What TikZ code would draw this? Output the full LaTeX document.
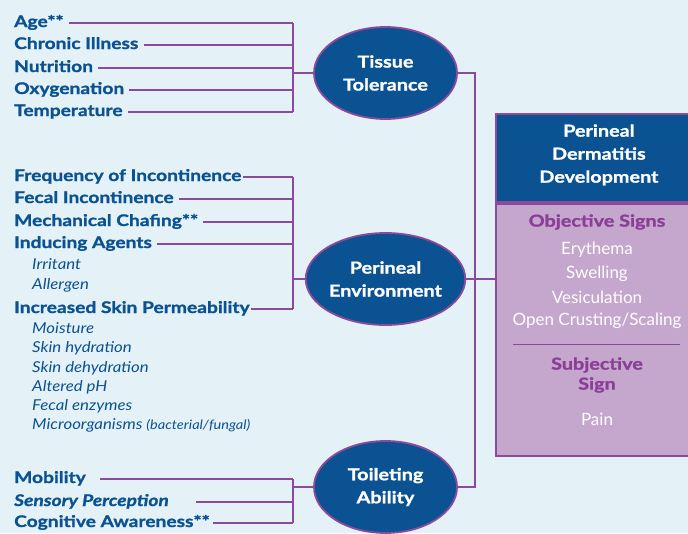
\documentclass[tikz,border=0pt]{standalone}
\usepackage{fontspec}
\setmainfont{Lato}[BoldFeatures={FakeStretch=1.2,FakeBold=1.2},ItalicFeatures={FakeStretch=1.12},
  BoldItalicFeatures={FakeStretch=1.2,FakeBold=1.2}]
\usetikzlibrary{positioning,shapes.geometric}
\definecolor{bgblue}{HTML}{E4F2F7}
\definecolor{navy}{HTML}{0A5291}
\definecolor{plum}{HTML}{8C4A9C}
\definecolor{lilac}{HTML}{C5A6CD}
\definecolor{plumtext}{HTML}{8A3E97}
% feeder line from a factor label to a bus
\newcommand{\feed}[3][]{\draw[feed,shorten <=5pt,#1] (#2.east) -- (#2.east -| #3);}

\tikzset{
  factor/.style={anchor=base west,inner sep=0pt,text height=10pt,text depth=2pt,
    font=\bfseries\fontsize{16}{18}\selectfont,text=navy},
  detail/.style={anchor=base west,inner sep=0pt,font=\itshape\fontsize{15}{16}\selectfont,text=navy},
  cluster/.style={ellipse,draw=plum,line width=1.8pt,fill=navy,minimum width=143pt,minimum height=92pt,
    inner sep=0pt,text=white,align=center,font=\bfseries\fontsize{16.5}{23}\selectfont},
  feed/.style={plum,line width=1.4pt},
  sign/.style={text=white,font=\fontsize{17}{20}\selectfont},
  signhead/.style={text=plumtext,align=center,font=\bfseries\fontsize{16.5}{20}\selectfont},
}

\begin{document}
\begin{tikzpicture}[x=1pt,y=-1pt]
  \fill[bgblue] (0,0) rectangle (688,533);
  \useasboundingbox (0,0) rectangle (688,533);
  \coordinate (lbus) at (293,0);
  \coordinate (rbus) at (475,0);

  % the three contributing domains
  \node[cluster] (tissue) at (385.5,73) {Tissue\\Tolerance};
  \node[cluster] (env) at (385.5,279) {Perineal\\Environment};
  \node[cluster] (toilet) at (385.5,487) {Toileting\\Ability};

  % outcome box
  \node[draw=plum,line width=1.8pt,fill=navy,minimum width=206pt,minimum height=88pt,
    inner sep=0pt,anchor=north west] (pdd) at (495,113) {};
  \node[draw=plum,line width=1.8pt,fill=lilac,minimum width=206pt,minimum height=252pt,
    inner sep=0pt,anchor=north west] (signs) at (pdd.south west) {};
  \node[text=white,align=center,font=\bfseries\fontsize{16.5}{23}\selectfont] (title)
    at ([yshift=3pt]pdd.center) {Perineal\\Dermatitis\\Development};
  \node[signhead] (objective) at (597,222) {Objective Signs};
  \node[sign] (erythema) at (597,250) {Erythema};
  \node[sign] (swelling) at (597,274) {Swelling};
  \node[sign] (vesic) at (597,297) {Vesiculation};
  \node[sign] (crusting) at (597,321) {Open Crusting/Scaling};
  \draw[plum,line width=1pt] (513,344) -- (680,344);
  \node[signhead] (subjective) at (597,375) {Subjective\\Sign};
  \node[sign] (pain) at (597,419) {Pain};

  % tissue tolerance factors
  \node[factor] (age) at (14,27) {Age**};
  \node[factor] (chronic) at (14,49) {Chronic Illness};
  \node[factor] (nutrition) at (14,72) {Nutrition};
  \node[factor] (oxygen) at (14,94) {Oxygenation};
  \node[factor] (temp) at (14,116) {Temperature};
  \foreach \n in {age,chronic,nutrition,oxygen,temp} {\feed{\n}{lbus}}
  \draw[feed] (age.east -| lbus) -- (temp.east -| lbus);
  \draw[feed] (tissue.west -| lbus) -- (tissue.west);

  % perineal environment factors
  \node[factor] (freq) at (14,181) {Frequency of Incontinence};
  \node[factor] (fecal) at (14,203) {Fecal Incontinence};
  \node[factor] (chafing) at (14,226) {Mechanical Chafing**};
  \node[factor] (agents) at (14,248) {Inducing Agents};
  \node[factor] (perm) at (14,313) {Increased Skin Permeability};
  \foreach \n/\y/\t in {irritant/269/Irritant,allergen/289/Allergen,moisture/333/Moisture,
      hydration/352/Skin hydration,dehydration/372/Skin dehydration,ph/391/Altered pH,
      enzymes/410/Fecal enzymes}
    \node[detail] (\n) at (32,\y) {\t};
  \node[detail] (microbes) at (32,429) {Microorganisms {\fontsize{13}{14}\selectfont(bacterial/fungal)}};
  \feed[shorten <=1pt]{freq}{lbus}
  \foreach \n in {fecal,chafing,agents} {\feed{\n}{lbus}}
  \feed[shorten <=1pt]{perm}{lbus}
  \draw[feed] (freq.east -| lbus) -- (perm.east -| lbus);
  \draw[feed] (env.west -| lbus) -- (env.west);

  % toileting ability factors
  \node[factor] (mobility) at (14,483) {Mobility};
  \node[factor,font=\bfseries\itshape\fontsize{16}{18}\selectfont] (sensory) at (14,506) {Sensory Perception};
  \node[factor] (cognitive) at (14,527) {Cognitive Awareness**};
  \feed[shorten <=14pt]{mobility}{lbus}
  \feed[shorten <=27pt]{sensory}{lbus}
  \feed[shorten <=3pt]{cognitive}{lbus}
  \draw[feed] (mobility.east -| lbus) -- (cognitive.east -| lbus);
  \draw[feed] (toilet.west -| lbus) -- (toilet.west);

  % domains into the outcome box
  \draw[feed] (tissue.east) -| (rbus |- toilet.east) -- (toilet.east);
  \draw[feed] (env.east) -- (env.east -| signs.west);
\end{tikzpicture}
\end{document}
